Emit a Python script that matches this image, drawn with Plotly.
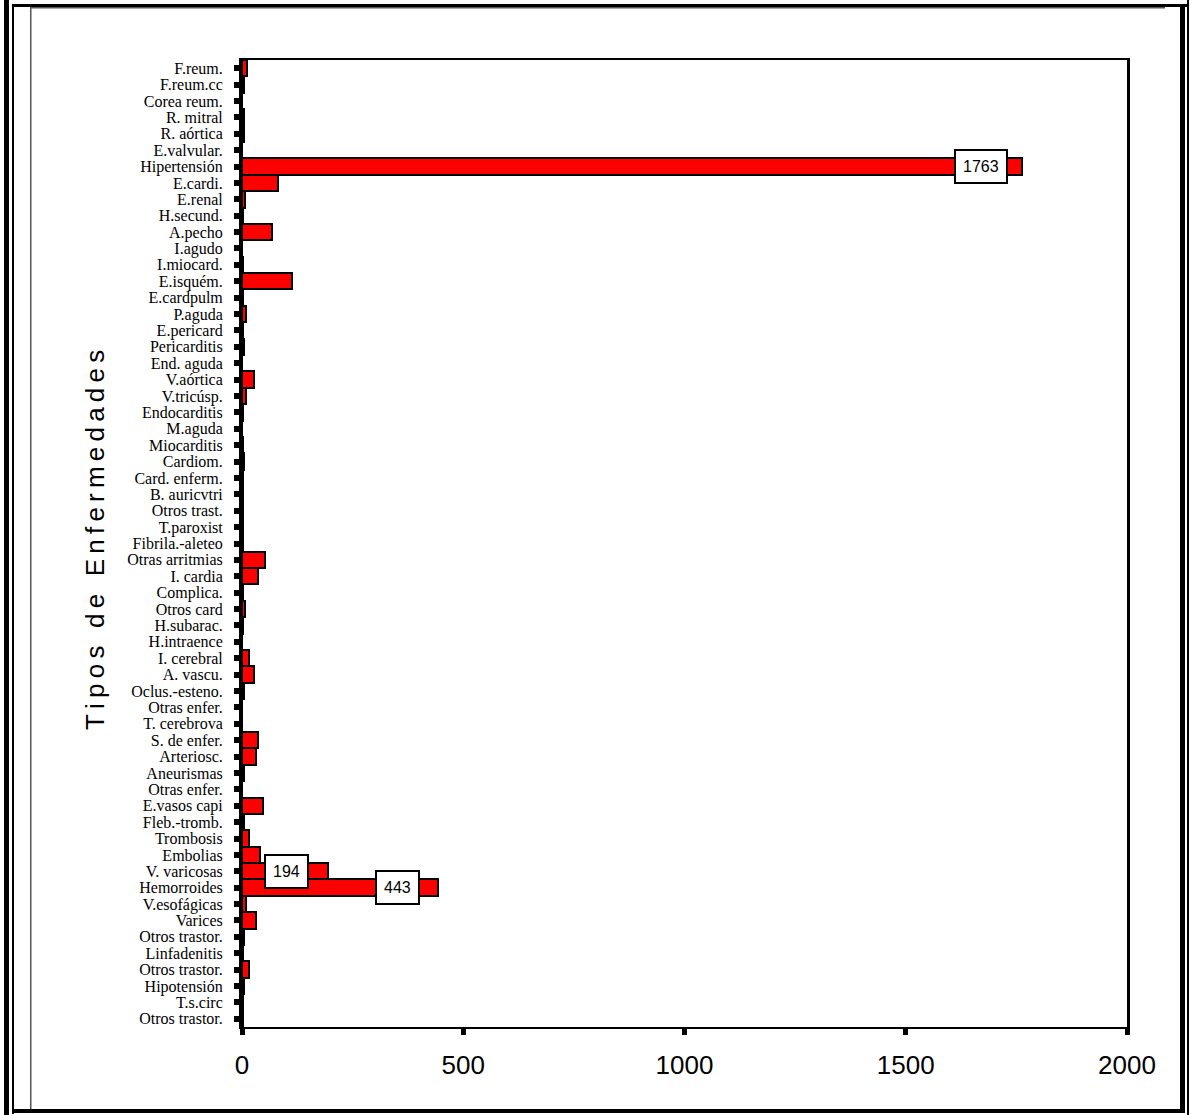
import plotly.graph_objects as go

categories = [
    "F.reum.", "F.reum.cc", "Corea reum.", "R. mitral", "R. aórtica", "E.valvular.",
    "Hipertensión", "E.cardi.", "E.renal", "H.secund.", "A.pecho", "I.agudo",
    "I.miocard.", "E.isquém.", "E.cardpulm", "P.aguda", "E.pericard", "Pericarditis",
    "End. aguda", "V.aórtica", "V.tricúsp.", "Endocarditis", "M.aguda", "Miocarditis",
    "Cardiom.", "Card. enferm.", "B. auricvtri", "Otros trast.", "T.paroxist",
    "Fibrila.-aleteo", "Otras arritmias", "I. cardia", "Complica.", "Otros card",
    "H.subarac.", "H.intraence", "I. cerebral", "A. vascu.", "Oclus.-esteno.",
    "Otras enfer.", "T. cerebrova", "S. de enfer.", "Arteriosc.", "Aneurismas",
    "Otras enfer.", "E.vasos capi", "Fleb.-tromb.", "Trombosis", "Embolias",
    "V. varicosas", "Hemorroides", "V.esofágicas", "Varices", "Otros trastor.",
    "Linfadenitis", "Otros trastor.", "Hipotensión", "T.s.circ", "Otros trastor.",
]

values = [
    12, 5, 1, 5, 4, 1,
    1763, 82, 6, 2, 67, 1,
    2, 113, 2, 10, 2, 5,
    1, 28, 9, 2, 1, 2,
    5, 2, 2, 3, 2,
    2, 52, 37, 2, 6,
    2, 1, 15, 27, 5,
    1, 1, 36, 32, 5,
    1, 47, 4, 15, 40,
    194, 443, 10, 32, 5,
    2, 15, 5, 2, 2,
]

labeled = ["Hipertensión", "V. varicosas", "Hemorroides"]

x_ticks = [0, 500, 1000, 1500, 2000]

y_title = "Tipos de Enfermedades"

positions = list(range(len(categories)))

# plot-area pixel geometry
W, H = 1195, 1115
L, R, T, B = 242, 1127, 60, 1027


def px(xp):
    return (xp - L) / (R - L)


def py(yp):
    return (B - yp) / (B - T)


fig = go.Figure()
fig.add_trace(go.Bar(
    x=values,
    y=positions,
    orientation="h",
    width=1.0,
    marker=dict(color="#FF0000", line=dict(color="black", width=2)),
    hoverinfo="x+text",
    text=categories,
    textposition="none",
))

annotations = []
for i, (c, v) in enumerate(zip(categories, values)):
    if c in labeled:
        annotations.append(dict(
            x=v, y=i, xref="x", yref="y", text=str(v), showarrow=False,
            xshift=-41, bgcolor="white", bordercolor="black", borderwidth=2,
            borderpad=7, font=dict(family="Liberation Sans, Arial, sans-serif", size=16, color="black"),
        ))

spaced_title = "\u2009".join(list(y_title))
annotations.append(dict(
    x=px(95), y=py(540), xref="paper", yref="paper", text=spaced_title,
    showarrow=False, textangle=-90, xanchor="center", yanchor="middle",
    font=dict(family="Liberation Sans, Arial, sans-serif", size=26, color="black"),
))

shapes = []


def rect(x0, y0, x1, y1, color="black"):
    shapes.append(dict(type="rect", xref="paper", yref="paper",
                       x0=px(x0), x1=px(x1), y0=py(y0), y1=py(y1),
                       fillcolor=color, line=dict(width=0), layer="above"))


rect(4, 0, 9, 1115)
rect(12, 4, 14, 1114)
rect(12, 4, 1189, 7)
rect(1180, 6, 1185, 1113)
rect(1187, 0, 1189, 1115)
rect(12, 1109, 1185, 1113)
rect(30, 8, 31.5, 1109, "#555555")
rect(30, 7, 1165, 8.5, "#555555")

fig.update_layout(
    width=W, height=H,
    margin=dict(l=L, r=W - R, t=T, b=H - B),
    paper_bgcolor="white", plot_bgcolor="white",
    showlegend=False,
    bargap=0,
    annotations=annotations,
    shapes=shapes,
    xaxis=dict(
        range=[0, 2000], tickvals=x_ticks, ticktext=[str(t) for t in x_ticks],
        showgrid=False, zeroline=False, showline=True, linecolor="black", linewidth=2,
        mirror=True, ticks="outside", ticklen=6, tickwidth=5, tickcolor="black",
        tickfont=dict(family="Liberation Sans Narrow, Arial Narrow, Liberation Sans, sans-serif", size=26, color="black"),
        ticklabelstandoff=8,
    ),
    yaxis=dict(
        range=[len(categories) - 0.5, -0.5], tickvals=positions, ticktext=categories,
        showgrid=False, zeroline=False, showline=True, linecolor="black", linewidth=3,
        mirror=True, ticks="outside", ticklen=5, tickwidth=6, tickcolor="black",
        tickfont=dict(family="Liberation Serif, Times New Roman, serif", size=16, color="black"),
        ticklabelstandoff=8,
    ),
)

fig.write_html(
    "out.html",
    config={"displayModeBar": False},
    post_script="document.body.style.margin='0';document.body.style.overflow='hidden';",
)
